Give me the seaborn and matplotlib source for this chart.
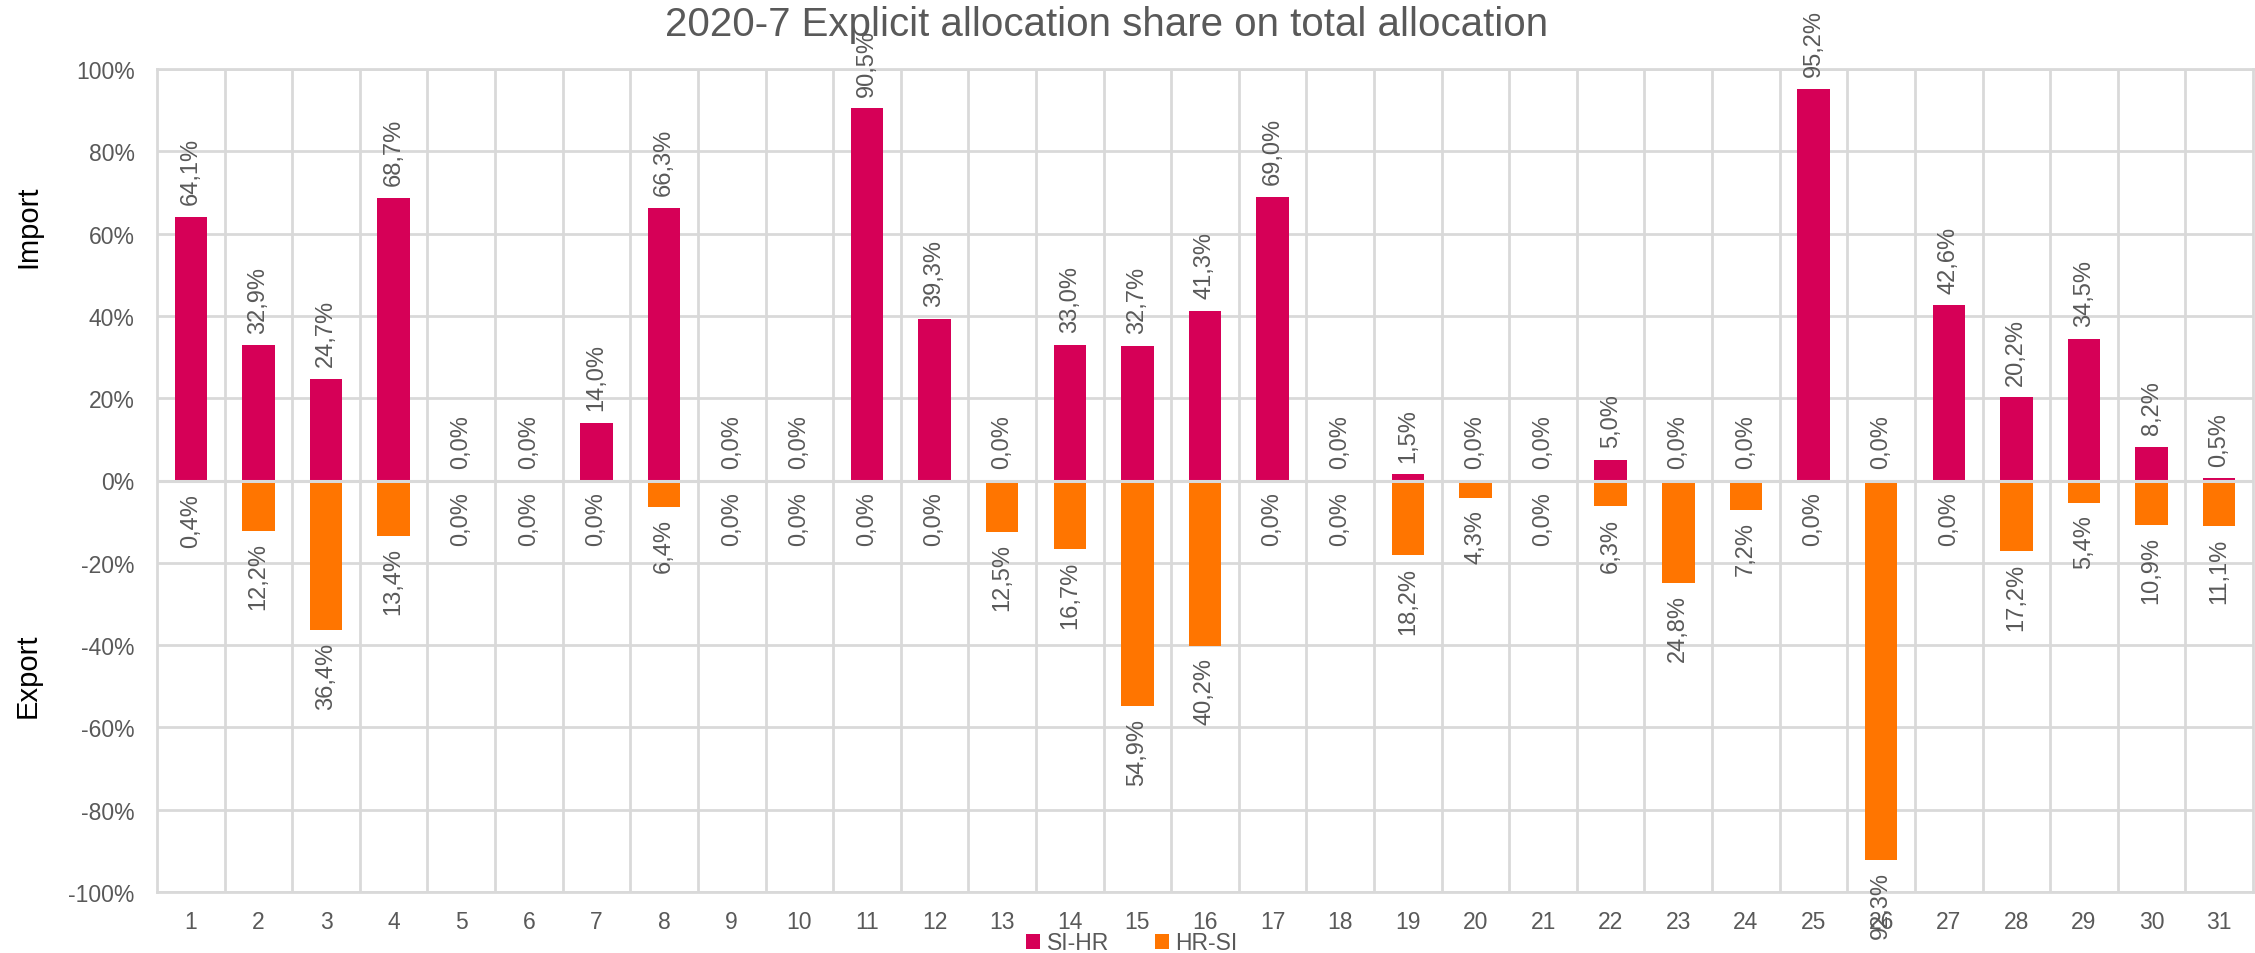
import matplotlib
matplotlib.use("Agg")
import matplotlib.pyplot as plt
from matplotlib import font_manager
from matplotlib.patches import Patch
from matplotlib.ticker import FixedLocator, FuncFormatter
import seaborn as sns
import pandas as pd

# Daily explicit allocation share, July 2020 (percent)
days = list(range(1, 32))
si_hr = [64.1, 32.9, 24.7, 68.7, 0.0, 0.0, 14.0, 66.3, 0.0, 0.0,
         90.5, 39.3, 0.0, 33.0, 32.7, 41.3, 69.0, 0.0, 1.5, 0.0,
         0.0, 5.0, 0.0, 0.0, 95.2, 0.0, 42.6, 20.2, 34.5, 8.2, 0.5]
hr_si = [0.4, 12.2, 36.4, 13.4, 0.0, 0.0, 0.0, 6.4, 0.0, 0.0,
         0.0, 0.0, 12.5, 16.7, 54.9, 40.2, 0.0, 0.0, 18.2, 4.3,
         0.0, 6.3, 24.8, 7.2, 0.0, 92.3, 0.0, 17.2, 5.4, 10.9, 11.1]
y_ticks = [-100, -80, -60, -40, -20, 0, 20, 40, 60, 80, 100]
title = "2020-7 Explicit allocation share on total allocation"
series_names = ["SI-HR", "HR-SI"]

PINK = "#D60057"
ORANGE = "#FF7500"
GRID = "#D9D9D9"
TXT = "#595959"

sns.set_theme(style="white")
plt.rcParams["font.family"] = ["Liberation Sans", "DejaVu Sans"]

available = {f.name for f in font_manager.fontManager.ttflist}
title_family = "Liberation Sans Narrow" if "Liberation Sans Narrow" in available else "Liberation Sans"

df = pd.DataFrame({"day": [str(d) for d in days],
                   "si_hr": si_hr,
                   "hr_si_neg": [-v for v in hr_si]})

fig = plt.figure(figsize=(22.55, 9.54), dpi=100)
ax = fig.add_axes([157 / 2255, 1 - 893 / 954, (2253 - 157) / 2255, (893 - 70) / 954])

sns.barplot(data=df, x="day", y="si_hr", color=PINK, width=0.48,
            saturation=1, ax=ax, zorder=3, linewidth=0)
sns.barplot(data=df, x="day", y="hr_si_neg", color=ORANGE, width=0.48,
            saturation=1, ax=ax, zorder=3, linewidth=0)

ax.set_xlim(-0.5, len(days) - 0.5)
ax.set_ylim(-100, 100)
ax.yaxis.set_major_locator(FixedLocator(y_ticks))
ax.yaxis.set_major_formatter(FuncFormatter(lambda v, p: f"{v:.0f}%"))
ax.xaxis.set_minor_locator(FixedLocator([i + 0.5 for i in range(len(days) - 1)]))

ax.grid(axis="y", which="major", color=GRID, linewidth=2, zorder=0)
ax.grid(axis="x", which="minor", color=GRID, linewidth=2, zorder=0)
ax.axhline(0, color=GRID, linewidth=2.2, zorder=4)
ax.set_axisbelow(True)
for s in ax.spines.values():
    s.set_color(GRID)
    s.set_linewidth(2)

ax.tick_params(axis="both", which="both", length=0, labelsize=16.5, labelcolor=TXT)
ax.tick_params(axis="y", pad=16)
ax.tick_params(axis="x", pad=13)
ax.set_xlabel("")
ax.set_ylabel("")


def fmt(v):
    return f"{v:.1f}%".replace(".", ",")


for i, (p, o) in enumerate(zip(si_hr, hr_si)):
    ax.annotate(fmt(p), xy=(i, p), xytext=(0, 9), textcoords="offset points",
                rotation=90, ha="center", va="bottom", fontsize=17,
                color=TXT, zorder=5, annotation_clip=False)
    ax.annotate(fmt(o), xy=(i, -o), xytext=(0, -8), textcoords="offset points",
                rotation=90, ha="center", va="top", fontsize=17,
                color=TXT, zorder=5, annotation_clip=False)

fig.text(1107 / 2255, 1 - 25 / 954, title, ha="center", va="center",
         fontsize=29, color=TXT, family=[title_family, "DejaVu Sans"])
fig.text(28 / 2255, 1 - 227 / 954, "Import", rotation=90, ha="center",
         va="center", fontsize=21, color="black")
fig.text(28 / 2255, 1 - 676 / 954, "Export", rotation=90, ha="center",
         va="center", fontsize=21, color="black")

handles = [Patch(facecolor=PINK, edgecolor="none", label=series_names[0]),
           Patch(facecolor=ORANGE, edgecolor="none", label=series_names[1])]
fig.legend(handles=handles, loc="center", bbox_to_anchor=(1132 / 2255, 1 - 944 / 954),
           ncol=2, frameon=False, fontsize=16.5, labelcolor=TXT,
           handlelength=0.6, handleheight=0.6, handletextpad=0.3,
           columnspacing=2.0, borderpad=0)

fig.savefig("out.png", dpi=100)
